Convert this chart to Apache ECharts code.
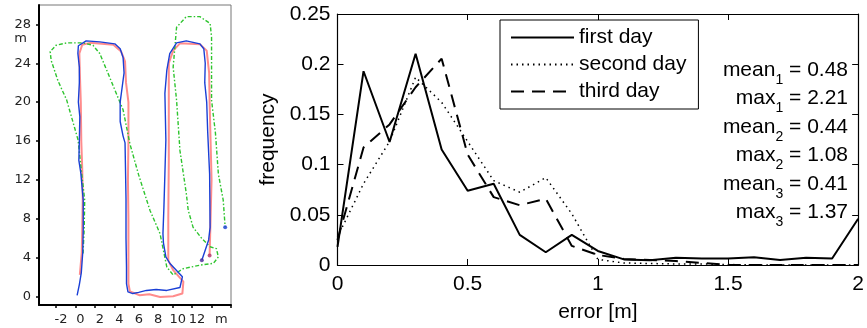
<!DOCTYPE html>
<html>
<head>
<meta charset="utf-8">
<script src="https://cdn.jsdelivr.net/npm/echarts@6/dist/echarts.min.js"></script>
<style>
html,body{margin:0;padding:0;background:#fff;}
#c{width:867px;height:328px;}
</style>
</head>
<body>
<div id="c"></div>
<script>
// ---------- Left panel: trajectories (metres) ----------
var bluePath = [[0.17,0.1],[0.4,1.2],[0.6,2.4],[0.75,4.5],[0.8,7],[0.8,9.9],[0.55,12.7],[0.35,14],[0.4,16],[0.45,18.5],[0.3,20],[0.4,22],[0.4,23.6],[0.25,25],[0.3,25.8],[1.1,26.3],[2.5,26.2],[4.05,26.0],[4.6,25.5],[4.9,24.6],[5.0,23],[4.8,21.5],[4.6,20],[4.6,18],[4.9,16.5],[5.1,15.8],[5.15,13],[5.2,10],[5.2,6],[5.25,3],[5.25,1.3],[5.4,0.45],[5.9,0.28],[6.5,0.4],[7.3,0.6],[8.3,0.7],[9.4,0.6],[10.75,0.9],[11.0,2.0],[9.7,3.4],[9.3,4.05],[9.05,5.5],[9.0,6.45],[9.1,9.2],[9.2,12.6],[9.3,16.1],[9.2,20.9],[9.4,23.3],[9.7,25.0],[10.4,26.1],[11.4,26.3],[12.8,26.0],[13.2,25.5],[13.35,24],[13.3,22],[13.5,20],[13.6,17],[13.8,12.6],[13.85,7.1],[13.7,5.8],[13.0,3.7]];
var redPath = [[0.45,2.2],[0.65,4.5],[0.7,7],[0.75,10],[0.7,13],[0.6,16],[0.55,20],[0.45,23],[0.4,25],[0.7,25.9],[1.5,26.1],[3.9,25.9],[4.7,25.2],[5.1,24.2],[5.2,22],[5.45,20],[5.45,16],[5.4,12],[5.45,8],[5.45,4],[5.45,1.3],[5.6,0.5],[6.6,0.1],[7.6,0.2],[8.7,-0.07],[10.05,0.0],[11.0,0.28],[11.1,1.5],[10.05,2.7],[9.55,3.7],[9.55,8],[9.6,14],[9.6,20],[9.6,24],[10.05,25.3],[10.75,26.05],[12.8,25.95],[13.5,25.3],[13.75,23],[13.8,20],[13.9,16],[14.0,12],[13.9,8],[13.8,4.2]];
var greenPath = [[0.78,4.4],[0.9,7],[0.95,9.9],[0.6,13],[0.27,16.1],[-0.9,20.2],[-1.8,22.2],[-2.5,24.3],[-2.6,25.2],[-2.0,25.85],[-0.9,26.1],[0.8,26.1],[1.8,25.85],[2.5,25.0],[3.5,22.6],[4.9,19.2],[5.6,15.7],[6.5,12.5],[7.66,8.86],[8.7,6.45],[9.4,3.0],[10.05,2.2],[11.1,2.85],[12.8,3.2],[14.2,3.4],[14.7,4.05],[14.5,4.9],[13.85,5.1],[13.0,5.95],[12.1,7.1],[11.6,8.86],[11.4,10.6],[10.75,15.0],[10.4,20.2],[10.05,23.6],[10.4,27.7],[11.4,28.8],[12.8,28.8],[13.85,28.1],[14.0,26.7],[14.0,20.2],[14.4,16.8],[14.7,12.6],[15.2,9.9],[15.4,7.1]];
var mapXTicks = [-2,0,2,4,6,8,10,12,14,16];
var mapXLabels = [-2,0,2,4,6,8,10,12];
var mapYTicks = [0,4,8,12,16,20,24,28];

// ---------- Right panel: error histogram ----------
var errX = [0,0.1,0.2,0.3,0.4,0.5,0.6,0.7,0.8,0.9,1.0,1.1,1.2,1.3,1.4,1.5,1.6,1.7,1.8,1.9,2.0];
var firstDay  = [0.018,0.193,0.1225,0.2105,0.115,0.074,0.081,0.030,0.0127,0.030,0.014,0.0056,0.0048,0.0072,0.0065,0.0065,0.0078,0.0049,0.0072,0.0065,0.046];
var secondDay = [0.028,0.081,0.123,0.187,0.162,0.123,0.084,0.0725,0.087,0.051,0.0056,0.002,0.0015,0.001,0.001,0.0005,0,0,0,0,0];
var thirdDay  = [0.025,0.117,0.14,0.177,0.2055,0.110,0.0676,0.0595,0.066,0.019,0.010,0.006,0.005,0.004,0.002,0.0,0,0,0,0,0];
var seriesNames = ['first day','second day','third day'];
var statNames = ['mean','max','mean','max','mean','max'];
var statSubs  = ['1','1','2','2','3','3'];
var statVals  = ['0.48','2.21','0.44','1.08','0.41','1.37'];

function zip(xs, ys){ return xs.map(function(x,i){ return [x, ys[i]]; }); }

var SANS = '"Liberation Sans", Arial, Helvetica, sans-serif';
var DJV = '"DejaVu Sans", sans-serif';

var chart = echarts.init(document.getElementById('c'), null, {renderer:'canvas'});

var statGraphics = statNames.map(function(n, i){
  return {
    type:'text', right: 867-848, top: 70 + i*28.5 - 17,
    style:{
      text: '{a|' + n + '}{s|' + statSubs[i] + '}{a| = ' + statVals[i] + '}',
      fill:'#000',
      rich:{
        a:{fontSize:21, fontFamily:SANS, lineHeight:24, fill:'#000'},
        s:{fontSize:14, fontFamily:SANS, lineHeight:14, padding:[20,0,0,0], fill:'#000'}
      }
    }
  };
});

var option = {
  animation:false,
  backgroundColor:'#fff',
  grid:[
    {left:39, top:5, width:192, height:300, show:true, borderColor:'#777', borderWidth:1, backgroundColor:'#fff'},
    {left:337.5, top:14, width:528.5, height:255, show:false}
  ],
  xAxis:[
    {type:'value', gridIndex:0, min:-3.75, max:16,
     axisLine:{show:true, onZero:false, lineStyle:{color:'#000', width:2}},
     axisTick:{show:true, inside:false, length:3, customValues:mapXTicks, lineStyle:{color:'#000', width:1.5}},
     axisLabel:{show:true, customValues:mapXLabels.concat([14.5]), margin:8, fontSize:13, fontFamily:DJV, color:'#222', padding:[0,0,0,10],
       formatter:function(v){ return v===14.5 ? 'm' : String(v); }},
     splitLine:{show:false}},
    {type:'value', gridIndex:1, min:0, max:2, interval:0.5,
     axisLine:{show:true, onZero:false, lineStyle:{color:'#000', width:1.2}},
     axisTick:{show:true, inside:true, length:6, lineStyle:{color:'#000'}},
     axisLabel:{show:true, margin:9, fontSize:21, fontFamily:SANS, color:'#000'},
     splitLine:{show:false},
     name:'error [m]', nameLocation:'middle', nameGap:37,
     nameTextStyle:{fontSize:21, fontFamily:SANS, color:'#000'}},
    {type:'value', gridIndex:1, position:'top', min:0, max:2, interval:0.5,
     axisLine:{show:true, onZero:false, lineStyle:{color:'#000', width:1.2}},
     axisTick:{show:true, inside:true, length:6, lineStyle:{color:'#000'}},
     axisLabel:{show:false}, splitLine:{show:false}}
  ],
  yAxis:[
    {type:'value', gridIndex:0, min:-0.9, max:30,
     axisLine:{show:true, onZero:false, lineStyle:{color:'#000', width:2}},
     axisTick:{show:true, inside:false, length:3, customValues:mapYTicks, lineStyle:{color:'#000', width:1.5}},
     axisLabel:{show:true, customValues:mapYTicks.concat([26.5]), margin:8, fontSize:13, fontFamily:DJV, color:'#222',
       formatter:function(v){ return v===26.5 ? '{m|m}' : String(v); },
       rich:{m:{fontSize:13, fontFamily:DJV, color:'#222', padding:[0,4,0,0]}}},
     splitLine:{show:false}},
    {type:'value', gridIndex:1, min:0, max:0.25, interval:0.05,
     axisLine:{show:true, onZero:false, lineStyle:{color:'#000', width:1.2}},
     axisTick:{show:true, inside:true, length:6, lineStyle:{color:'#000'}},
     axisLabel:{show:true, margin:7, fontSize:21, fontFamily:SANS, color:'#000',
       formatter:function(v){ return String(Math.round(v*100)/100); }},
     splitLine:{show:false},
     name:'frequency', nameLocation:'middle', nameGap:54,
     nameTextStyle:{fontSize:21, fontFamily:SANS, color:'#000'}},
    {type:'value', gridIndex:1, position:'right', min:0, max:0.25, interval:0.05,
     axisLine:{show:true, onZero:false, lineStyle:{color:'#000', width:1.2}},
     axisTick:{show:true, inside:true, length:6, lineStyle:{color:'#000'}},
     axisLabel:{show:false}, splitLine:{show:false}}
  ],
  legend:{
    data:seriesNames, orient:'vertical', left:500, top:20,
    backgroundColor:'#fff', borderColor:'#000', borderWidth:1, borderRadius:0,
    padding:[7,12,7,10], itemWidth:63, itemHeight:14, itemGap:6,
    itemStyle:{opacity:0},
    textStyle:{fontSize:21, fontFamily:SANS, color:'#000'},
    selectedMode:false
  },
  graphic: statGraphics,
  series:[
    {type:'line', name:'red', xAxisIndex:0, yAxisIndex:0, data:redPath, symbol:'none', smooth:false,
     lineStyle:{color:'#ff8c8c', width:2}, z:2},
    {type:'line', name:'green', xAxisIndex:0, yAxisIndex:0, data:greenPath, symbol:'none',
     lineStyle:{color:'#2ec42e', width:1.4, type:[4,2,1.5,2]}, z:3},
    {type:'line', name:'blue', xAxisIndex:0, yAxisIndex:0, data:bluePath, symbol:'none',
     lineStyle:{color:'#1a3fd6', width:1.4}, z:4},
    {type:'scatter', name:'ends', xAxisIndex:0, yAxisIndex:0, symbolSize:4, z:5,
     data:[
       {value:bluePath[bluePath.length-1], itemStyle:{color:'#4b2a9a'}},
       {value:redPath[redPath.length-1], itemStyle:{color:'#b0306a'}},
       {value:greenPath[greenPath.length-1], itemStyle:{color:'#1a3fd6'}}
     ]},
    {type:'line', name:seriesNames[0], xAxisIndex:1, yAxisIndex:1, data:zip(errX, firstDay), symbol:'none',
     lineStyle:{color:'#000', width:2}, itemStyle:{color:'#000'}},
    {type:'line', name:seriesNames[1], xAxisIndex:1, yAxisIndex:1, data:zip(errX, secondDay), symbol:'none',
     lineStyle:{color:'#000', width:1.5, type:[1.5,4]}, itemStyle:{color:'#000'}},
    {type:'line', name:seriesNames[2], xAxisIndex:1, yAxisIndex:1, data:zip(errX, thirdDay), symbol:'none',
     lineStyle:{color:'#000', width:2, type:[13,8]}, itemStyle:{color:'#000'}}
  ]
};
chart.setOption(option);
</script>
</body>
</html>
